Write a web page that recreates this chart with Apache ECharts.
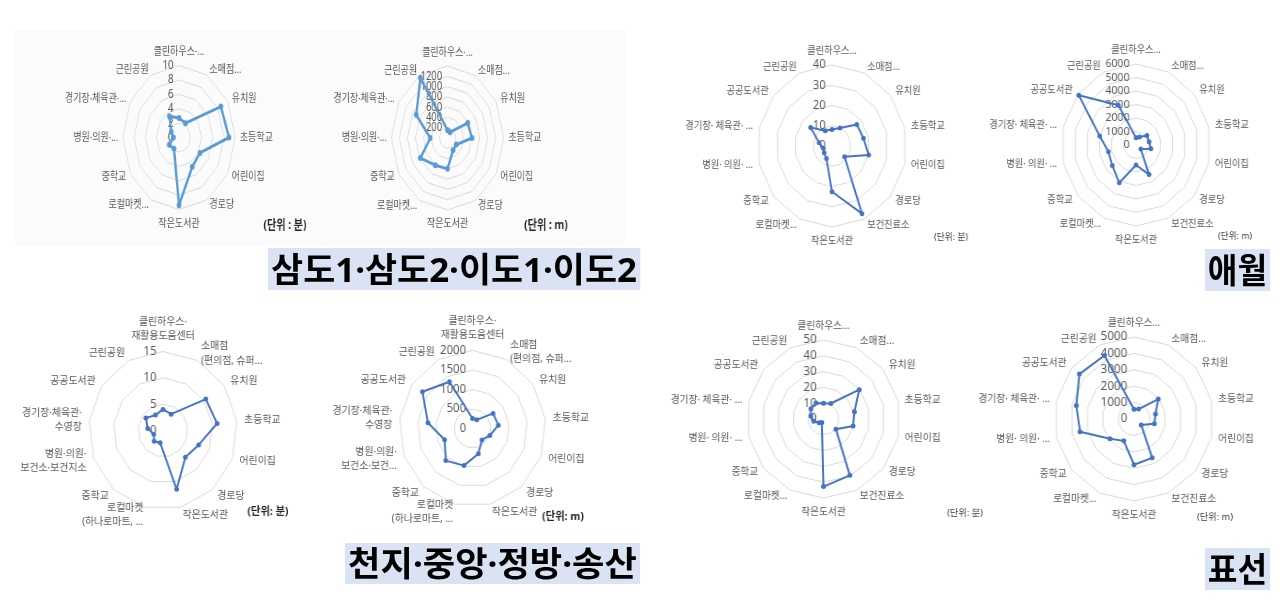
<!DOCTYPE html>
<html><head><meta charset="utf-8">
<script src="https://cdn.jsdelivr.net/npm/echarts@6/dist/echarts.min.js"></script>
<style>
html,body{margin:0;padding:0;background:#fff;width:1280px;height:612px;overflow:hidden;}
.layer{position:absolute;left:0;top:0;width:1280px;height:612px;}
.title{position:absolute;background:#dae3f3;color:#000;font-family:"Noto Sans","Noto Sans CJK KR",sans-serif;font-weight:700;font-size:34px;white-space:nowrap;transform-origin:0 0;text-align:center;}
#panel{position:absolute;left:15px;top:30px;width:610px;height:216px;background:#fbfbfb;}
</style></head><body>
<div id="panel"></div>
<script>
// ---------------- DATA (clockwise from top) ----------------
const namesSamdo = ["클린하우스·…", "소매점…", "유치원", "초등학교", "어린이집", "경로당", "작은도서관", "로컬마켓…", "중학교", "병원·의원·…", "경기장·체육관·…", "근린공원"];
const samdoMin = [2.7, 2.3, 8.6, 8.9, 4.3, 4.7, 9.4, 1.8, 2.0, 1.0, 1.6, 3.4];
const samdoM = [150, 130, 580, 610, 255, 275, 600, 610, 780, 430, 900, 1350];
const samdoMinTicks = [0, 2, 4, 6, 8, 10];
const samdoMTicks = [0, 200, 400, 600, 800, 1000, 1200, 1400];

const namesAewol = ["클린하우스…", "소매점…", "유치원", "초등학교", "어린이집", "경로당", "보건진료소", "작은도서관", "로컬마켓…", "중학교", "병원· 의원· …", "경기장· 체육관· …", "공공도서관", "근린공원"];
const aewolMin = [8.2, 9.9, 17.0, 17.3, 20.2, 8.6, 37.1, 22.6, 6.9, 5.4, 4.8, 7.1, 14.7, 8.4];
const aewolM = [540, 650, 1120, 1080, 1230, 490, 2430, 1480, 3110, 2440, 2280, 3000, 5900, 3260];
const aewolMinTicks = [0, 10, 20, 30, 40];
const aewolMTicks = [0, 1000, 2000, 3000, 4000, 5000, 6000];

const namesCheonjiMin = ["클린하우스·\n재활용도움센터", "소매점\n(편의점, 슈퍼…", "유치원", "초등학교", "어린이집", "경로당", "작은도서관", "로컬마켓\n(하나로마트, …", "중학교", "병원·의원·\n보건소·보건지소", "경기장·체육관·\n수영장", "공공도서관", "근린공원"];
const namesCheonjiM = ["클린하우스·\n재활용도움센터", "소매점\n(편의점, 슈퍼…", "유치원", "초등학교", "어린이집", "경로당", "작은도서관", "로컬마켓\n(하나로마트, …", "중학교", "병원·의원·\n보건소·보건…", "경기장·체육관·\n수영장", "공공도서관", "근린공원"];
const cheonjiMin = [4.0, 3.5, 10.5, 11.0, 7.7, 6.8, 11.5, 2.4, 2.7, 2.0, 3.1, 4.2, 3.3];
const cheonjiM = [255, 250, 680, 710, 505, 390, 665, 980, 1100, 815, 1225, 1660, 1355];
const cheonjiMinTicks = [0, 5, 10, 15];
const cheonjiMTicks = [0, 500, 1000, 1500, 2000];

const namesPyoseon = ["클린하우스…", "소매점…", "유치원", "초등학교", "어린이집", "경로당", "보건진료소", "작은도서관", "로컬마켓…", "중학교", "병원· 의원· …", "경기장· 체육관· …", "공공도서관", "근린공원"];
const pyoseonMin = [9.9, 10.9, 29.8, 20.7, 19.8, 10.3, 39.6, 42.8, 2.5, 3.7, 6.5, 8.5, 10.5, 11.2];
const pyoseonM = [600, 670, 1950, 1385, 1315, 575, 2630, 2790, 1480, 1940, 3480, 3720, 4390, 4300];
const pyoseonMinTicks = [0, 10, 20, 30, 40, 50];
const pyoseonMTicks = [0, 1000, 2000, 3000, 4000, 5000];

const titles = ["삼도1·삼도2·이도1·이도2", "애월", "천지·중앙·정방·송산", "표선"];
const unitMin = "(단위 : 분)", unitM = "(단위 : m)";
const unitMin2 = "(단위: 분)", unitM2 = "(단위: m)";

// ---------------- LAYOUT ----------------
const FONT = '"Noto Sans", "Noto Sans CJK KR", sans-serif';
const blueA = '#5B9BD5', blueB = '#4472C4';
const specs = [
  {names:namesSamdo, values:samdoMin, ticks:samdoMinTicks, cx:179, cy:137.5, r:72, sx:0.78, color:blueA, lw:3, sym:6, nameSize:11.5, labelSize:12.5, unit:unitMin, ux:285, uy:225, unitSize:13, unitBold:true, gap:6},
  {names:namesSamdo, values:samdoM, ticks:samdoMTicks, cx:447.5, cy:138, r:72, sx:0.78, color:blueA, lw:3, sym:6, nameSize:11.5, labelSize:12, unit:unitM, ux:546, uy:225, unitSize:13, unitBold:true, gap:6},
  {names:namesAewol, values:aewolMin, ticks:aewolMinTicks, cx:832, cy:146, r:81, sx:0.92, color:blueB, lw:2, sym:5, nameSize:10, labelSize:12, unit:unitMin2, ux:951, uy:237, unitSize:9.5, unitBold:false, gap:7},
  {names:namesAewol, values:aewolM, ticks:aewolMTicks, cx:1136, cy:145, r:81, sx:0.92, color:blueB, lw:2, sym:5, nameSize:10, labelSize:11.5, unit:unitM2, ux:1235, uy:236, unitSize:9.5, unitBold:false, gap:7},
  {names:namesCheonjiMin, values:cheonjiMin, ticks:cheonjiMinTicks, cx:163, cy:430.5, r:79, sx:0.94, color:blueB, lw:2, sym:5, nameSize:10.5, labelSize:12, unit:unitMin2, ux:268, uy:512, unitSize:11, unitBold:true, gap:8},
  {names:namesCheonjiM, values:cheonjiM, ticks:cheonjiMTicks, cx:472.5, cy:428.5, r:78, sx:0.94, color:blueB, lw:2, sym:5, nameSize:10.5, labelSize:12, unit:unitM2, ux:563, uy:517, unitSize:11, unitBold:true, gap:8},
  {names:namesPyoseon, values:pyoseonMin, ticks:pyoseonMinTicks, cx:823.5, cy:419, r:79, sx:0.97, color:blueB, lw:2, sym:5, nameSize:10, labelSize:12, unit:unitMin2, ux:965, uy:513, unitSize:9.5, unitBold:false, gap:7},
  {names:namesPyoseon, values:pyoseonM, ticks:pyoseonMTicks, cx:1134, cy:419, r:82, sx:0.97, color:blueB, lw:2, sym:5, nameSize:10, labelSize:12, unit:unitM2, ux:1215, uy:517, unitSize:9.5, unitBold:false, gap:7}
];

specs.forEach(function (s, k) {
  const div = document.createElement('div');
  div.className = 'layer';
  div.style.transform = 'scaleX(' + s.sx + ')';
  div.style.transformOrigin = s.cx + 'px ' + s.cy + 'px';
  document.body.appendChild(div);
  const chart = echarts.init(div, null, {renderer: 'canvas'});
  const n = s.names.length;
  // ECharts lays indicators counter-clockwise: reorder so that visually they run clockwise
  const order = [0];
  for (let i = n - 1; i >= 1; i--) order.push(i);
  const maxV = s.ticks[s.ticks.length - 1];
  const indicator = order.map(function (i) { return {name: s.names[i], min: s.ticks[0], max: maxV}; });
  indicator[0].axisLabel = {show: true, color: '#595959', fontSize: s.labelSize, fontFamily: FONT, margin: 7,
    formatter: function (v) { return String(v); }};
  chart.setOption({
    animation: false,
    radar: {
      center: [s.cx, s.cy], radius: s.r, startAngle: 90,
      splitNumber: s.ticks.length - 1, shape: 'polygon',
      axisName: {color: '#595959', fontSize: s.nameSize, fontFamily: FONT, lineHeight: s.nameSize * 1.35},
      nameGap: s.gap,
      splitLine: {lineStyle: {color: '#d9d9d9', width: 1}},
      splitArea: {show: false},
      axisLine: {show: false},
      axisTick: {show: false},
      axisLabel: {show: false},
      indicator: indicator
    },
    graphic: [{
      type: 'text', x: s.cx + (s.ux - s.cx) / s.sx, y: s.uy,
      style: {text: s.unit, fill: s.unitBold ? '#262626' : '#404040', fontSize: s.unitSize, fontWeight: s.unitBold ? 'bold' : 'normal', fontFamily: FONT, align: 'center', verticalAlign: 'middle'}
    }],
    series: [{
      type: 'radar', symbol: 'circle', symbolSize: s.sym,
      lineStyle: {color: s.color, width: s.lw},
      itemStyle: {color: s.color},
      data: [{value: order.map(function (i) { return s.values[i]; })}]
    }]
  });
});

// titles
const boxes = [
  {l:268, t:248, w:372, h:42},
  {l:1205, t:249, w:65, h:42},
  {l:345, t:543, w:295, h:41},
  {l:1205, t:548, w:65, h:42}
];
titles.forEach(function (txt, i) {
  const b = boxes[i];
  const d = document.createElement('div');
  d.className = 'title';
  d.textContent = txt;
  d.style.left = b.l + 'px';
  d.style.top = b.t + 'px';
  d.style.height = b.h + 'px';
  d.style.lineHeight = b.h + 'px';
  d.style.padding = '0 3px';
  document.body.appendChild(d);
  const w = d.getBoundingClientRect().width;
  d.style.transform = 'scaleX(' + (b.w / w) + ')';
});
</script>
</body></html>
